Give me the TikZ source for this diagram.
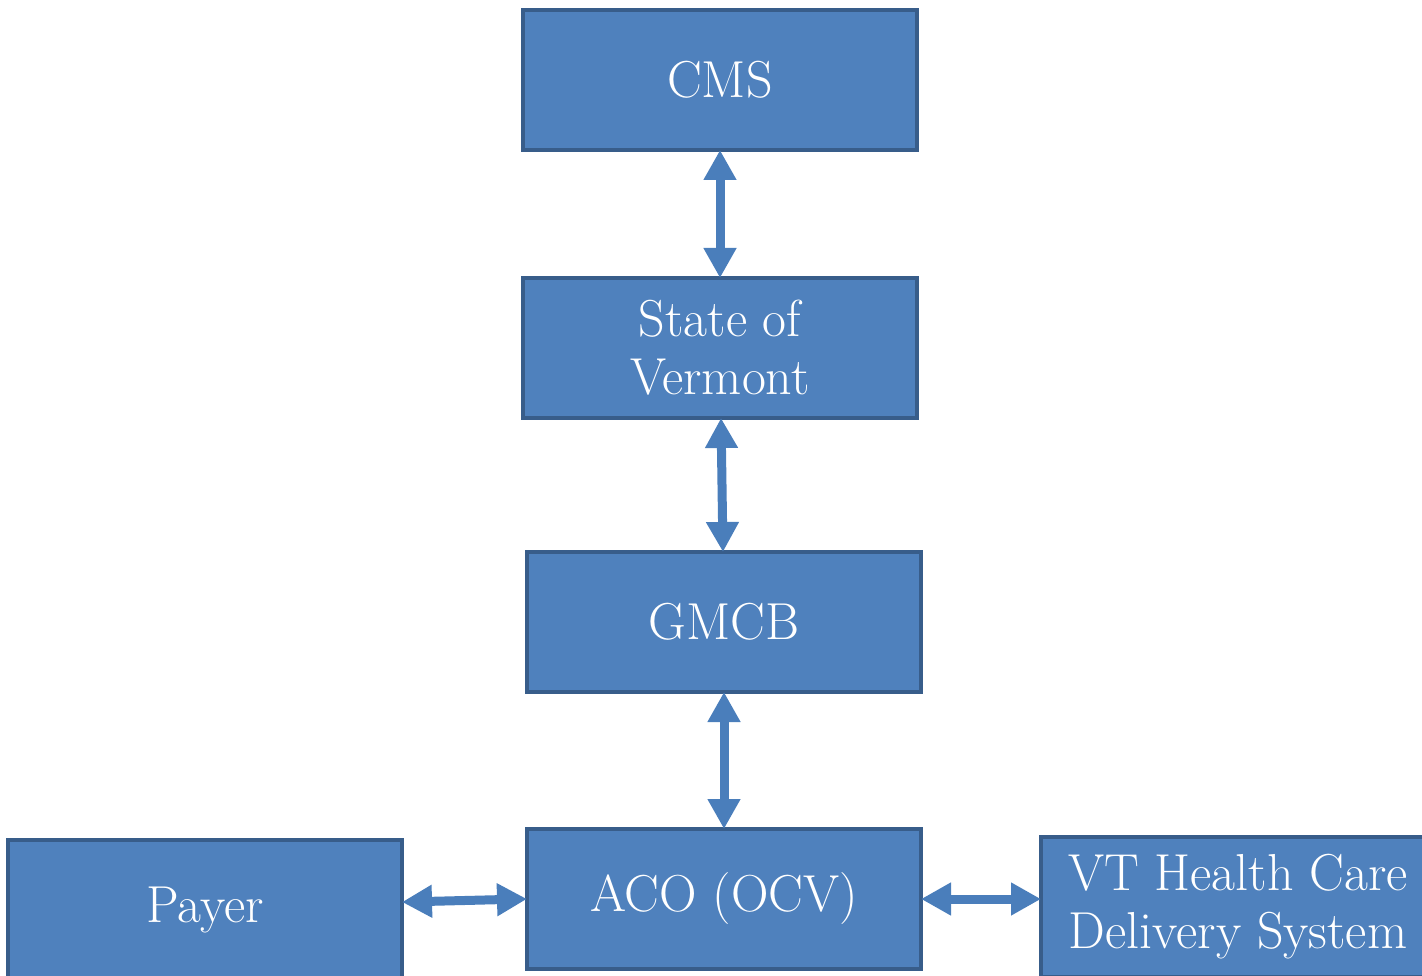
\documentclass[tikz,border=0pt]{standalone}
\usetikzlibrary{arrows.meta}
\definecolor{boxfill}{HTML}{4F81BD}
\definecolor{boxline}{HTML}{385D8A}
\definecolor{arrowblue}{HTML}{4A7EBB}
\begin{document}
\begin{tikzpicture}[x=1pt,y=-1pt,
        box/.style={draw=boxline,fill=boxfill,line width=4pt,minimum width=394pt,minimum height=140pt,inner sep=0pt,text=white,align=center,font=\fontsize{52}{58}\selectfont},
        link/.style={draw=arrowblue,line width=9pt,shorten <=-2pt,shorten >=-2pt,{Triangle[width=31pt,length=30pt]}-{Triangle[width=31pt,length=30pt]}}]
        \useasboundingbox (0,0) rectangle (1422,976);
        \node[box] (cms) at (720,80) {CMS};
        \node[box] (state) at (720,348) {State of\\Vermont};
        \node[box] (gmcb) at (724,622) {GMCB};
        \node[box] (aco) at (724,899) {ACO (OCV)};
        \node[box] (payer) at (205,910) {Payer};
        \node[box] (vt) at (1238,907) {VT Health Care\\Delivery System};
        \draw[link] (cms) -- (state);
        \draw[link] (state) -- (gmcb);
        \draw[link] (gmcb) -- (aco);
        \draw[link] ([yshift=8pt]payer.east) -- (aco.west);
        \draw[link] (aco.east) -- (aco.east -| vt.west);
        \end{tikzpicture}
\end{document}
